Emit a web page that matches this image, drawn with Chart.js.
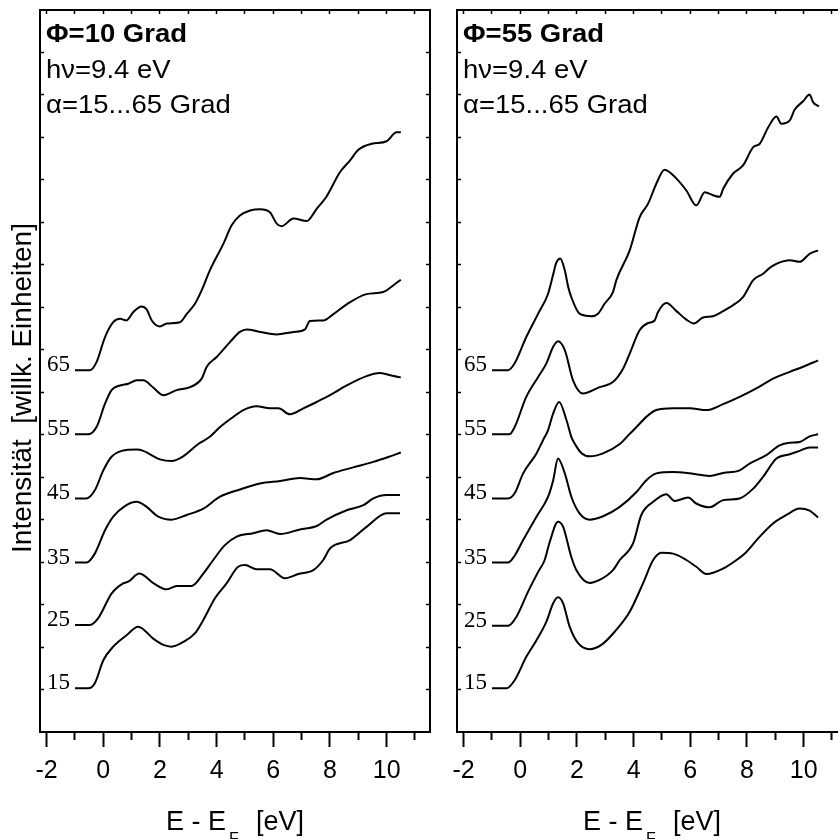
<!DOCTYPE html>
<html>
<head>
<meta charset="utf-8">
<script src="https://cdn.jsdelivr.net/npm/chart.js@4.4.1/dist/chart.umd.min.js"></script>
<style>
  html, body { margin: 0; padding: 0; background: #fff; overflow: hidden; }
  #wrap { position: relative; width: 838px; height: 839px; overflow: hidden; }
  canvas { position: absolute; top: 0; }
  #left { left: 0; }
  #right { left: 417px; }
</style>
</head>
<body>
<div id="wrap">
  <canvas id="left" width="436" height="839"></canvas>
  <canvas id="right" width="436" height="839"></canvas>
</div>
<script>
// emission angles (curve labels)
const angles = ["15", "25", "35", "45", "55", "65"];
// tick values
const xTickValues = [-2, -1, 0, 1, 2, 3, 4, 5, 6, 7, 8, 9, 10, 11];
const yTickValues = [1, 2, 3, 4, 5, 6, 7, 8, 9, 10, 11, 12, 13, 14, 15, 16];

// spectra, [E - EF (eV), intensity incl. stacking offset], phi = 10 deg
const phi10_a15 = [[-1,1.03],[-0.53,1.03],[-0.3,1.15],[0,1.69],[0.35,2.01],[0.82,2.28],[1.23,2.48],[1.76,2.2],[2.12,2.05],[2.41,2.01],[2.82,2.12],[3.23,2.32],[3.53,2.64],[3.94,3.15],[4.35,3.5],[4.76,3.89],[5,3.93],[5.41,3.83],[5.88,3.83],[6.41,3.62],[6.88,3.72],[7.41,3.81],[7.76,4.05],[8,4.32],[8.71,4.52],[9.29,4.83],[10,5.15],[10.47,5.15]];
const phi10_a25 = [[-1,2.52],[-0.47,2.52],[-0.18,2.68],[0.29,3.26],[0.7,3.5],[0.88,3.54],[1.27,3.73],[1.82,3.48],[2.24,3.36],[2.59,3.44],[3.12,3.44],[3.53,3.73],[3.88,4.05],[4.29,4.4],[4.71,4.6],[5.29,4.68],[5.76,4.75],[6.24,4.66],[6.94,4.77],[7.53,4.85],[7.88,5],[8.59,5.22],[9.18,5.34],[9.53,5.5],[10,5.58],[10.47,5.58]];
const phi10_a35 = [[-1,3.99],[-0.59,3.99],[-0.3,4.2],[0.06,4.75],[0.35,5.07],[0.76,5.32],[1.18,5.42],[1.53,5.3],[1.94,5.07],[2.41,5],[2.94,5.11],[3.53,5.26],[4.12,5.54],[4.82,5.71],[5.53,5.85],[6.24,5.91],[6.94,5.98],[7.53,5.95],[8.12,6.1],[8.82,6.23],[9.53,6.36],[10.12,6.49],[10.5,6.58]];
const phi10_a45 = [[-1,5.5],[-0.59,5.5],[-0.3,5.69],[0,6.16],[0.29,6.48],[0.65,6.62],[1.18,6.65],[1.41,6.62],[2,6.42],[2.41,6.38],[2.82,6.49],[3.35,6.78],[3.76,6.95],[4.12,7.18],[4.59,7.42],[4.94,7.58],[5.41,7.67],[5.88,7.62],[6.18,7.62],[6.59,7.48],[7.06,7.62],[7.53,7.77],[8,7.93],[8.59,8.16],[9.29,8.38],[9.76,8.45],[10.24,8.38],[10.5,8.35]];
const phi10_a55 = [[-1,7.01],[-0.53,7.01],[-0.24,7.18],[0.06,7.73],[0.29,8.05],[0.59,8.16],[0.88,8.2],[1.18,8.28],[1.41,8.28],[1.76,8.11],[2.12,7.93],[2.59,8.05],[3.06,8.12],[3.47,8.32],[3.65,8.6],[4,8.83],[4.47,9.18],[4.82,9.42],[5.06,9.48],[5.53,9.42],[6.12,9.36],[6.71,9.42],[7.12,9.48],[7.29,9.68],[7.76,9.69],[8.12,9.84],[8.59,10.07],[9.29,10.31],[9.88,10.36],[10.24,10.52],[10.5,10.65]];
const phi10_a65 = [[-1,8.52],[-0.47,8.52],[-0.24,8.71],[0.06,9.3],[0.35,9.65],[0.59,9.73],[0.82,9.69],[1.06,9.89],[1.35,10.02],[1.53,9.95],[1.71,9.69],[2,9.55],[2.24,9.62],[2.71,9.65],[2.94,9.84],[3.24,10.09],[3.47,10.4],[3.76,10.87],[4.24,11.5],[4.53,11.93],[4.82,12.16],[5.18,12.28],[5.53,12.31],[5.88,12.24],[6.12,11.97],[6.29,11.91],[6.71,12.09],[7.18,12.03],[7.53,12.32],[7.88,12.61],[8.35,13.18],[8.71,13.46],[9,13.71],[9.47,13.85],[10,13.91],[10.35,14.12],[10.5,14.12]];

// phi = 55 deg
const phi55_a15 = [[-1,1.03],[-0.49,1.03],[-0.2,1.22],[0.21,1.77],[0.57,2.16],[0.92,2.6],[1.16,3.03],[1.33,3.17],[1.51,3.03],[1.74,2.48],[2.04,2.09],[2.45,1.95],[2.86,2.05],[3.33,2.36],[3.86,2.83],[4.33,3.5],[4.69,4.05],[4.98,4.22],[5.39,4.2],[5.86,4.05],[6.21,3.89],[6.57,3.72],[7.16,3.85],[7.63,4.05],[7.98,4.24],[8.45,4.6],[8.92,4.91],[9.39,5.11],[9.86,5.26],[10.21,5.21],[10.51,5.05]];
const phi55_a25 = [[-1,2.5],[-0.43,2.5],[-0.14,2.71],[0.27,3.3],[0.63,3.77],[0.86,4.05],[1.04,4.48],[1.33,4.95],[1.51,4.83],[1.8,4.12],[1.98,3.81],[2.45,3.51],[2.8,3.58],[3.27,3.81],[3.51,4.05],[3.98,4.44],[4.27,5.11],[4.69,5.42],[5.15,5.6],[5.45,5.44],[5.92,5.52],[6.21,5.38],[6.68,5.29],[7.16,5.46],[7.74,5.5],[8.22,5.73],[8.57,6.01],[9.04,6.44],[9.51,6.54],[9.86,6.62],[10.21,6.7],[10.51,6.7]];
const phi55_a35 = [[-1,3.99],[-0.43,3.99],[-0.2,4.15],[0.1,4.52],[0.57,5.07],[0.98,5.54],[1.16,5.93],[1.33,6.44],[1.57,6.09],[1.8,5.54],[2.09,5.15],[2.45,5],[2.92,5.08],[3.51,5.3],[4.1,5.65],[4.45,5.93],[4.8,6.09],[5.39,6.12],[5.98,6.09],[6.68,6.03],[7.16,6.1],[7.74,6.16],[8.09,6.32],[8.68,6.52],[9.15,6.75],[9.51,6.81],[9.86,6.83],[10.21,6.96],[10.51,7.01]];
const phi55_a45 = [[-1,5.5],[-0.43,5.5],[-0.2,5.62],[0.1,6.09],[0.57,6.56],[0.8,6.87],[0.98,7.11],[1.16,7.5],[1.37,7.77],[1.63,7.34],[1.8,6.95],[1.92,6.79],[2.15,6.57],[2.45,6.49],[2.92,6.56],[3.51,6.78],[3.86,7.02],[4.1,7.18],[4.45,7.42],[4.8,7.58],[5.39,7.62],[5.98,7.62],[6.57,7.58],[7.16,7.72],[7.74,7.89],[8.33,8.09],[8.92,8.32],[9.51,8.48],[9.98,8.6],[10.51,8.75]];
const phi55_a55 = [[-1,7.01],[-0.38,7.01],[-0.2,7.18],[0.21,7.89],[0.63,8.36],[0.92,8.68],[1.16,9.07],[1.33,9.2],[1.57,8.99],[1.86,8.28],[2.21,7.97],[2.8,8.12],[3.27,8.24],[3.63,8.56],[3.86,8.91],[4.21,9.46],[4.51,9.63],[4.74,9.69],[4.86,9.89],[5.16,10.1],[5.51,9.91],[5.86,9.71],[6.12,9.62],[6.45,9.76],[6.8,9.79],[7.16,9.91],[7.51,10.05],[7.86,10.24],[8.22,10.64],[8.57,10.79],[8.86,10.96],[9.51,11.11],[9.86,11.07],[10.21,11.26],[10.51,11.34]];
const phi55_a65 = [[-1,8.52],[-0.43,8.52],[-0.2,8.68],[0.21,9.3],[0.63,9.85],[0.98,10.32],[1.15,10.75],[1.27,11.05],[1.41,11.15],[1.57,10.87],[1.69,10.48],[1.8,10.24],[2.09,9.85],[2.51,9.79],[2.74,9.85],[2.98,10.09],[3.27,10.36],[3.39,10.64],[3.86,11.34],[4.21,12.12],[4.51,12.44],[4.8,12.91],[5.09,13.24],[5.51,13.03],[5.86,12.75],[6.21,12.4],[6.51,12.71],[6.8,12.64],[7.04,12.6],[7.16,12.79],[7.51,13.15],[7.86,13.34],[8.22,13.77],[8.45,13.85],[8.75,14.24],[9.04,14.49],[9.21,14.32],[9.51,14.4],[9.68,14.65],[9.98,14.85],[10.21,15.01],[10.33,14.83],[10.54,14.73]];

const phi10 = [phi10_a15, phi10_a25, phi10_a35, phi10_a45, phi10_a55, phi10_a65];
const phi55 = [phi55_a15, phi55_a25, phi55_a35, phi55_a45, phi55_a55, phi55_a65];

const SANS = '"Liberation Sans", Arial, sans-serif';
const SERIF = '"Liberation Serif", "Times New Roman", serif';
Chart.defaults.font.family = SANS;
Chart.defaults.color = "#000";

// all the text that sits on the plot
const panelText = {
  id: "panelText",
  afterDraw(chart, args, opts) {
    const ctx = chart.ctx;
    const xs = chart.scales.x, ys = chart.scales.y;
    const area = chart.chartArea;
    ctx.save();
    ctx.fillStyle = "#000";
    ctx.textBaseline = "alphabetic";

    const wide = (txt, x, y, font) => {
      ctx.save();
      ctx.font = font;
      ctx.textAlign = "left";
      ctx.translate(x, y);
      ctx.scale(1.1, 1);
      ctx.fillText(txt, 0, 0);
      ctx.restore();
    };
    wide(opts.heading, area.left + 6, 42, "bold 25px " + SANS);
    wide("h\u03bd=9.4 eV", area.left + 6, 78, "25px " + SANS);
    wide("\u03b1=15...65 Grad", area.left + 6, 113, "25px " + SANS);

    // angle next to each curve start
    ctx.font = "23px " + SERIF;
    ctx.textAlign = "right";
    chart.data.datasets.forEach(ds => {
      const p = ds.data[0];
      ctx.fillText(ds.label, xs.getPixelForValue(p.x) - 5, ys.getPixelForValue(p.y) + 1);
    });

    // x title with subscript F
    ctx.textAlign = "left";
    const big = "27px " + SANS, small = "16px " + SANS;
    ctx.font = big;
    const w1 = ctx.measureText("E - E").width;
    const w3 = ctx.measureText("[eV]").width;
    ctx.font = small;
    const wF = ctx.measureText("F").width;
    const total = w1 + 3 + wF + 17 + w3;
    let x0 = (area.left + area.right) / 2 - total / 2;
    ctx.font = big;
    ctx.fillText("E - E", x0, 830);
    ctx.font = small;
    ctx.fillText("F", x0 + w1 + 3, 844);
    ctx.font = big;
    ctx.fillText("[eV]", x0 + w1 + 3 + wF + 17, 830);

    if (opts.yTitle) {
      ctx.save();
      ctx.translate(23, 388);
      ctx.rotate(-Math.PI / 2);
      ctx.textAlign = "center";
      ctx.textBaseline = "middle";
      ctx.font = "28px " + SANS;
      ctx.fillText(opts.yTitle, 0, 0);
      ctx.restore();
    }
    ctx.restore();
  }
};

function makePanel(id, series, heading, yTitle) {
  const datasets = series.map((pts, i) => ({
    label: angles[i],
    data: pts.map(([x, y]) => ({ x, y })),
    borderColor: "#000",
    borderWidth: 2,
    pointRadius: 0,
    fill: false,
    cubicInterpolationMode: "monotone",
  }));

  const setTicks = values => scale => {
    scale.ticks = values.map(v => ({ value: v }));
  };

  new Chart(document.getElementById(id), {
    type: "line",
    data: { datasets },
    plugins: [panelText],
    options: {
      responsive: false,
      animation: false,
      events: [],
      layout: { padding: { top: 10, right: 6, left: 0, bottom: 0 } },
      plugins: {
        legend: { display: false },
        tooltip: { enabled: false },
        panelText: { heading, yTitle },
      },
      scales: {
        x: {
          type: "linear",
          position: "bottom",
          min: -2.235,
          max: 11.53,
          afterBuildTicks: setTicks(xTickValues),
          afterFit: s => { s.height = 107; },
          border: { display: true, color: "#000", width: 2 },
          grid: {
            drawOnChartArea: false,
            drawTicks: true,
            tickLength: 15,
            tickWidth: 2,
            tickColor: "#000",
            tickBorderDash: c => (c.tick && Math.abs(c.tick.value) % 2 === 1) ? [7, 30] : [],
          },
          ticks: {
            padding: 9,
            font: { size: 25 },
            color: "#000",
            autoSkip: false,
            maxRotation: 0,
            callback: v => (Math.abs(v) % 2 === 0 ? String(v) : ""),
          },
        },
        x2: {
          type: "linear",
          position: "top",
          min: -2.235,
          max: 11.53,
          afterBuildTicks: setTicks(xTickValues),
          afterFit: s => { s.height = 0; },
          border: { display: true, color: "#000", width: 2 },
          grid: { drawOnChartArea: false, drawTicks: true, tickLength: -4, tickWidth: 1.5, tickColor: "#000" },
          ticks: { display: false },
        },
        y: {
          type: "linear",
          position: "left",
          min: 0,
          max: 17,
          afterBuildTicks: setTicks(yTickValues),
          afterFit: s => { s.width = 40; },
          border: { display: true, color: "#000", width: 2 },
          grid: { drawOnChartArea: false, drawTicks: true, tickLength: -4, tickWidth: 1.5, tickColor: "#000" },
          ticks: { display: false },
        },
        y2: {
          type: "linear",
          position: "right",
          min: 0,
          max: 17,
          afterBuildTicks: setTicks(yTickValues),
          afterFit: s => { s.width = 0; },
          border: { display: true, color: "#000", width: 2 },
          grid: { drawOnChartArea: false, drawTicks: true, tickLength: -4, tickWidth: 1.5, tickColor: "#000" },
          ticks: { display: false },
        },
      },
    },
  });
}

makePanel("left", phi10, "\u03a6=10 Grad", "Intensit\u00e4t  [willk. Einheiten]");
makePanel("right", phi55, "\u03a6=55 Grad", null);
</script>
</body>
</html>
